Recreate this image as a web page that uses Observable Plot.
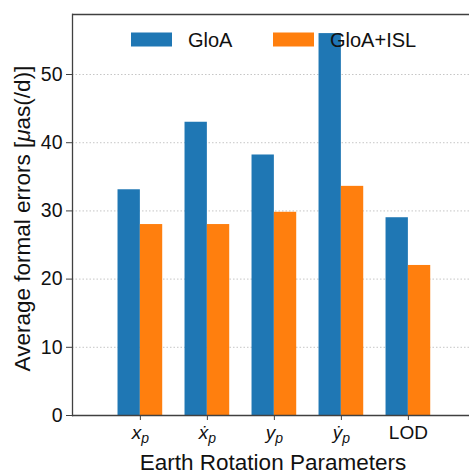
<!DOCTYPE html>
<html>
<head>
<meta charset="utf-8">
<script src="https://cdn.jsdelivr.net/npm/d3@7"></script>
<script src="https://cdn.jsdelivr.net/npm/@observablehq/plot@0.6"></script>
<style>
  html, body { margin: 0; padding: 0; background: #fff; }
  #chart svg { font-family: "Liberation Sans", Arial, sans-serif; display: block; }
</style>
</head>
<body>
<div id="chart"></div>
<script>
// ---- data ----
const params = ["x_p", "ẋ_p", "y_p", "ẏ_p", "LOD"];
const series = ["GloA", "GloA+ISL"];
const gloa = [33.1, 43.0, 38.2, 56.0, 29.0];
const gloaIsl = [28.0, 28.0, 29.8, 33.6, 22.0];
const yTicks = [0, 10, 20, 30, 40, 50];
const colors = ["#1f77b4", "#ff7f0e"];
const xLabel = "Earth Rotation Parameters";
const yLabel = "Average formal errors [μas(/d)]";

const yMax = 58.8;
const W = 469, H = 473;
const mL = 72, mT = 14, mB = 58, mR = 0;
const pInner = 0.333, pOuter = 0.629;
const step = (W - mL - mR) / (params.length - pInner + 2 * pOuter);
const half = step * (1 - pInner) / 2;

const rows = params.map((p, i) => ({p, a: gloa[i], b: gloaIsl[i]}));

const plot = Plot.plot({
  width: W, height: H,
  marginLeft: mL, marginTop: mT, marginBottom: mB, marginRight: mR,
  style: {fontFamily: '"Liberation Sans", Arial, sans-serif', background: "#fff", color: "#111"},
  x: {domain: params, type: "band", paddingInner: pInner, paddingOuter: pOuter, align: 0.54, round: false, label: null},
  y: {domain: [0, yMax], label: null},
  color: {domain: series, range: colors},
  marks: [
    Plot.ruleY(yTicks.filter(d => d > 0), {stroke: "#b8b8b8", strokeWidth: 0.8, strokeDasharray: "1.5,2"}),
    Plot.barY(rows, {x: "p", y: "a", fill: () => series[0], insetRight: half, insetLeft: 0}),
    Plot.barY(rows, {x: "p", y: "b", fill: () => series[1], insetLeft: half, insetRight: 0}),
    Plot.ruleY([0, yMax], {stroke: "#404040", strokeWidth: 1.3}),
    Plot.frame({anchor: "left", stroke: "#404040", strokeWidth: 1.3}),
    Plot.axisY({ticks: yTicks, tickSize: 6, tickPadding: 4, fontSize: 19.5, label: null, stroke: "#404040"}),
    Plot.axisX({tickSize: 5, tickPadding: 5, fontSize: 19, label: null, stroke: "#404040"}),
    Plot.text([xLabel], {frameAnchor: "bottom", dy: 47, dx: 2, fontSize: 22.5, textAnchor: "middle", lineAnchor: "middle", fill: "#111", className: "xlab"}),
    Plot.text([yLabel], {frameAnchor: "left", dx: -50, dy: 3.5, rotate: -90, fontSize: 22.5, textAnchor: "middle", lineAnchor: "middle", fill: "#111", className: "ylab"})
  ]
});

// subscripts / italics in tick labels
plot.querySelectorAll('g[aria-label="x-axis tick label"] text').forEach(t => {
  const s = t.textContent;
  if (s.includes("_")) {
    const [base, sub] = s.split("_");
    t.textContent = "";
    const ns = "http://www.w3.org/2000/svg";
    const a = document.createElementNS(ns, "tspan");
    a.setAttribute("font-style", "italic");
    a.textContent = base;
    const b = document.createElementNS(ns, "tspan");
    b.setAttribute("font-style", "italic");
    b.setAttribute("font-size", "14");
    b.setAttribute("dy", "4");
    b.textContent = sub;
    t.appendChild(a); t.appendChild(b);
  }
});
// italic mu in y label
plot.querySelectorAll('.ylab text').forEach(t => {
  const s = t.textContent;
  const i = s.indexOf("μ");
  if (i >= 0) {
    const ns = "http://www.w3.org/2000/svg";
    t.textContent = "";
    const parts = [s.slice(0, i), "μ", s.slice(i + 1)];
    parts.forEach((p, k) => {
      const ts = document.createElementNS(ns, "tspan");
      if (k === 1) ts.setAttribute("font-style", "italic");
      ts.textContent = p;
      t.appendChild(ts);
    });
  }
});

// legend inside the plot
const svg = d3.select(plot);
const cs = plot.scale("color");
const lg = svg.append("g").attr("class", "legend").attr("font-size", 20).attr("fill", "#111").attr("text-anchor", "start");
const lx = [131, 273];
series.forEach((s, i) => {
  lg.append("rect").attr("x", lx[i]).attr("y", 32.5).attr("width", 41).attr("height", 14).attr("fill", cs.apply(s));
  lg.append("text").attr("x", lx[i] + 57).attr("y", 39.5).attr("dy", "0.35em").attr("text-anchor", "start").text(s);
});

document.getElementById("chart").appendChild(plot);
</script>
</body>
</html>
